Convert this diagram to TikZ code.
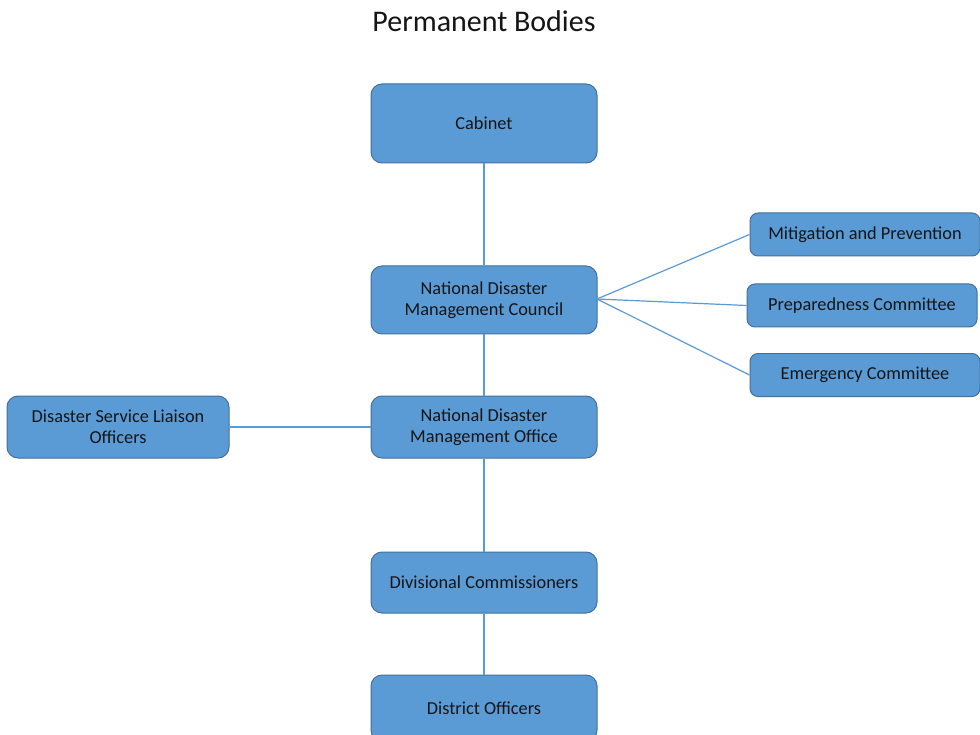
\documentclass[tikz,border=0pt]{standalone}
\usepackage{fontspec}
\setmainfont{Carlito}
\definecolor{boxfill}{HTML}{5B9BD5}
\definecolor{boxedge}{HTML}{41719C}
\definecolor{linkc}{HTML}{5B9BD5}
\definecolor{txt}{HTML}{151515}
\begin{document}
\begin{tikzpicture}[x=1pt,y=-1pt,
  orgbox/.style={draw=boxedge,line width=1pt,fill=boxfill,rounded corners=11pt,
    minimum width=226pt,minimum height=#1,inner sep=0pt,align=center,
    text=txt,font=\fontsize{18.3}{20.5}\selectfont},
  orgbox/.default=62pt,
  smallbox/.style={draw=boxedge,line width=1pt,fill=boxfill,rounded corners=8pt,
    minimum width=230pt,minimum height=43pt,inner sep=0pt,align=center,
    text=txt,font=\fontsize{18.3}{20.5}\selectfont},
  link/.style={draw=linkc,line width=1.2pt}]
\useasboundingbox (0,0) rectangle (980,735);
\clip (0,0) rectangle (980,735);
\fill[white] (0,0) rectangle (980,735);
\node[font=\fontsize{30}{34}\selectfont,text=txt] (title) at (484,21) {Permanent Bodies};
\node[orgbox=79pt] (cab) at (484,123.5) {Cabinet};
\node[orgbox=68pt] (ndmc) at (484,300) {National Disaster\\Management Council};
\node[orgbox=62pt] (ndmo) at (484,427) {National Disaster\\Management Office};
\node[orgbox=61pt] (div) at (484,582.5) {Divisional Commissioners};
\node[orgbox=66pt] (dist) at (484,708) {District Officers};
\node[orgbox=62pt,minimum width=222pt] (dslo) at (118,427) {Disaster Service Liaison\\Officers};
\node[smallbox] (mit) at (865,234.5) {Mitigation and Prevention};
\node[smallbox] (prep) at (862,305.5) {Preparedness Committee};
\node[smallbox] (emer) at (865,375) {Emergency Committee};
\coordinate (fan) at (597,299);
\draw[link] (cab.south) -- (ndmc.north);
\draw[link] (ndmc.south) -- (ndmo.north);
\draw[link] (ndmo.south) -- (div.north);
\draw[link] (div.south) -- (dist.north);
\draw[link] (dslo.east) -- (ndmo.west);
\draw[link] (fan) -- (mit.west);
\draw[link] (fan) -- (prep.west);
\draw[link] (fan) -- (emer.west);
\end{tikzpicture}
\end{document}
